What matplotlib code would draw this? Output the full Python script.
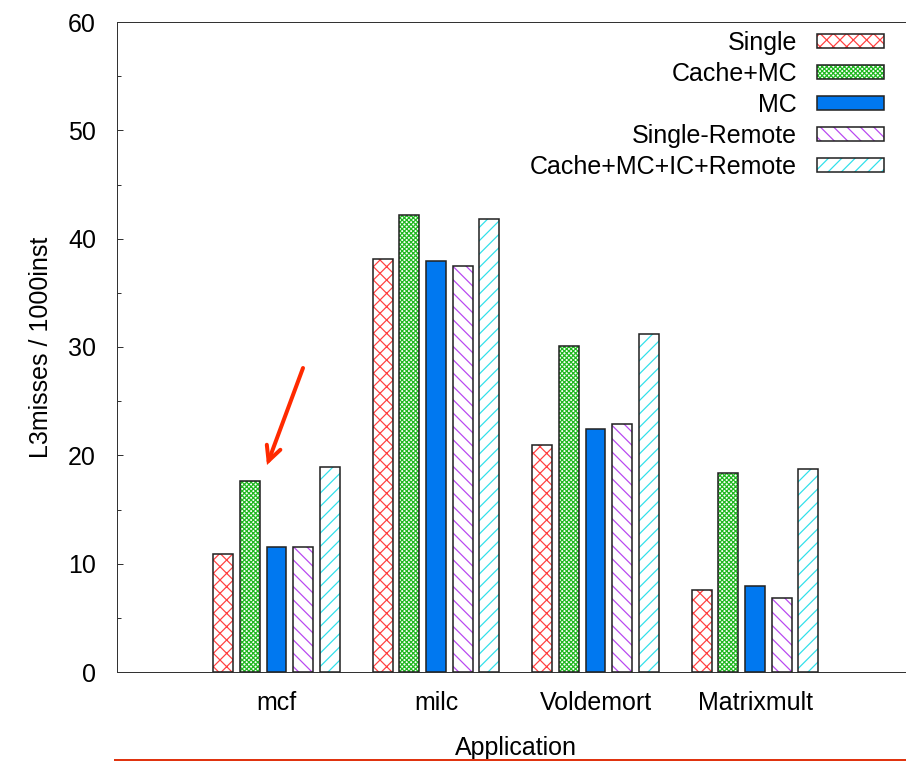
import numpy as np
import matplotlib
matplotlib.use('Agg')
import matplotlib.pyplot as plt
from matplotlib.lines import Line2D
from matplotlib.patches import Patch
from matplotlib.legend_handler import HandlerTuple

# data
apps = ['mcf', 'milc', 'Voldemort', 'Matrixmult']
series = ['Single', 'Cache+MC', 'MC', 'Single-Remote', 'Cache+MC+IC+Remote']
single = [10.9, 38.1, 21.0, 7.6]
cache_mc = [17.6, 42.2, 30.1, 18.4]
mc = [11.5, 37.9, 22.4, 7.9]
single_remote = [11.5, 37.5, 22.9, 6.8]
cache_mc_ic_remote = [18.9, 41.8, 31.2, 18.7]
values = [single, cache_mc, mc, single_remote, cache_mc_ic_remote]

# style of each series: fill, hatch, hatch colour
fills = ['white', 'white', '#0078f0', 'white', 'white']
hatches = ['xx', 'xxxxxx', '', '\\\\', '//']
hatch_cols = ['#ff4040', '#20b820', '#0078f0', '#b848f0', '#30e0ea']

DPI = 80
W, H = 906, 761
FS = 22.5
plt.rcParams['font.family'] = ['Liberation Sans', 'DejaVu Sans']
plt.rcParams['hatch.linewidth'] = 1.1

fig = plt.figure(figsize=(W / DPI, H / DPI), dpi=DPI)
ax = fig.add_axes([117 / W, (H - 672) / H, 5 * 159.5 / W, 650 / H])

x = np.arange(1, len(apps) + 1)
bw = 0.125
step = 0.167
handles = []
for j, name in enumerate(series):
    pos = x + (j - 2) * step
    # hatch drawn in its own colour, black outline on top
    ax.bar(pos, values[j], bw, color=fills[j], edgecolor=hatch_cols[j],
           hatch=hatches[j], linewidth=0, zorder=2)
    ax.bar(pos, values[j], bw, fill=False, edgecolor='#222222',
           linewidth=1.4, zorder=3)
    h1 = Patch(facecolor=fills[j], edgecolor=hatch_cols[j], hatch=hatches[j], linewidth=0)
    h2 = Patch(fill=False, edgecolor='#222222', linewidth=1.4)
    handles.append((h1, h2))

ax.set_xlim(0, 5)
ax.set_ylim(0, 60)
ax.set_xticks(x)
ax.set_xticklabels(apps)
ax.set_yticks(np.arange(0, 61, 10))
ax.set_yticks(np.arange(5, 60, 10), minor=True)
ax.tick_params(axis='x', length=0, pad=17, labelsize=FS)
ax.tick_params(axis='y', which='major', direction='in', length=5.4, width=0.9,
               pad=19, labelsize=FS, color='#333333')
ax.tick_params(axis='y', which='minor', direction='in', length=3.2, width=0.9,
               color='#333333')
ax.spines['right'].set_visible(False)
for s in ['left', 'top', 'bottom']:
    ax.spines[s].set_color('#333333')
    ax.spines[s].set_linewidth(0.9)

ax.set_xlabel('Application', fontsize=FS, labelpad=19)
ax.set_ylabel('L3misses / 1000inst', fontsize=FS, labelpad=13)

leg = ax.legend(handles, series, handler_map={tuple: HandlerTuple(ndivide=1)},
                loc='upper right', bbox_to_anchor=(884 / W, (H - 31) / H),
                bbox_transform=fig.transFigure, markerfirst=False, frameon=False,
                fontsize=FS, handlelength=2.68, handleheight=0.48,
                handletextpad=0.8, labelspacing=0.28, borderpad=0, borderaxespad=0)

# red annotation arrow pointing at mcf
ax.annotate('', xy=(267, H - 465), xycoords='figure pixels',
            xytext=(303, H - 368), textcoords='figure pixels',
            arrowprops=dict(arrowstyle='->,head_length=1.3,head_width=0.65',
                            color='#ff2a00', lw=3.6, shrinkA=0, shrinkB=0,
                            capstyle='round', joinstyle='miter'))

# red rule at the very bottom
fig.add_artist(Line2D([115 / W, 1], [1.2 / H, 1.2 / H], color='#e0340f', lw=1.8,
                      transform=fig.transFigure))

plt.savefig('out.png', dpi=DPI)
